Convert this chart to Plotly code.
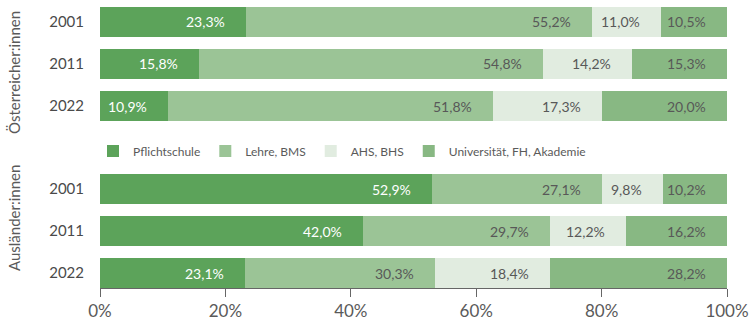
import plotly.graph_objects as go

# Bildungsstand nach Staatsangehörigkeit, Anteile in %
years = ["2001", "2011", "2022"]
levels = ["Pflichtschule", "Lehre, BMS", "AHS, BHS", "Universität, FH, Akademie"]

at_pflicht = [23.3, 15.8, 10.9]
at_lehre = [55.2, 54.8, 51.8]
at_ahs = [11.0, 14.2, 17.3]
at_uni = [10.5, 15.3, 20.0]

aus_pflicht = [52.9, 42.0, 23.1]
aus_lehre = [27.1, 29.7, 30.3]
aus_ahs = [9.8, 12.2, 18.4]
aus_uni = [10.2, 16.2, 28.2]

group_titles = ["Österreicher:innen", "Ausländer:innen"]
x_ticks = [0, 20, 40, 60, 80, 100]

colors = ["#5ca35a", "#9bc496", "#e1ece0", "#88b883"]
label_colors = ["#ffffff", "#585858", "#585858", "#585858"]
FONT = "Lato"

W, H = 749, 326
x0_px, x1_px = 100, 727

def paper_y(px):
    return (H - px) / H

fig = go.Figure()

groups = [
    ("x", "y", [at_pflicht, at_lehre, at_ahs, at_uni]),
    ("x2", "y2", [aus_pflicht, aus_lehre, aus_ahs, aus_uni]),
]
rows = list(range(len(years)))

annotations = []
for gi, (xref, yref, series) in enumerate(groups):
    cum = [0.0] * len(years)
    for si, vals in enumerate(series):
        fig.add_trace(go.Bar(
            x=vals, y=rows, orientation="h", width=0.714,
            name=levels[si], marker=dict(color=colors[si], line=dict(width=0)),
            xaxis=xref, yaxis=yref,
            showlegend=(gi == 0), hoverinfo="skip",
        ))
        for yi, v in enumerate(vals):
            end = cum[yi] + v
            # rounding can push the stack a hair past 100 %; keep the label inside the axis
            annotations.append(dict(
                x=min(end, 100.0), y=rows[yi], xref=xref, yref=yref,
                text=f"{v:.1f}%".replace(".", ","), showarrow=False,
                xanchor="right", yanchor="middle", xshift=-19,
                font=dict(family=FONT, size=14, color=label_colors[si]),
            ))
            cum[yi] = end

# group titles on the left, rotated
for title, center_px in zip(group_titles, [73, 218]):
    annotations.append(dict(
        x=14 / W, y=paper_y(center_px), xref="paper", yref="paper",
        xanchor="center", yanchor="middle",
        text=title, textangle=-90, showarrow=False,
        font=dict(family=FONT, size=15, color="#5a5a5a"),
    ))

xdom = [x0_px / W, x1_px / W]
yaxis_common = dict(
    tickvals=rows, ticktext=years,
    showgrid=False, zeroline=False, showline=False, ticks="",
    tickfont=dict(family=FONT, size=15, color="#4a4a4a"),
    ticklabelstandoff=15, automargin=False, fixedrange=True,
)

fig.update_layout(
    width=W, height=H,
    margin=dict(l=0, r=0, t=0, b=0),
    paper_bgcolor="white", plot_bgcolor="white",
    barmode="stack",
    font=dict(family=FONT, color="#5a5a5a"),
    xaxis=dict(domain=xdom, anchor="y", range=[0, 100], visible=False, fixedrange=True),
    xaxis2=dict(
        domain=xdom, anchor="y2", range=[0, 100],
        tickvals=x_ticks, ticktext=[f"{t}%" for t in x_ticks],
        showgrid=False, zeroline=False,
        showline=True, linecolor="#666666", linewidth=1,
        ticks="outside", ticklen=8, tickcolor="#666666",
        tickfont=dict(family=FONT, size=17, color="#5a5a5a"),
        automargin=False, fixedrange=True,
    ),
    yaxis=dict(domain=[paper_y(127), paper_y(1)], range=[2.5, -0.5], **yaxis_common),
    yaxis2=dict(domain=[paper_y(288), paper_y(168)], range=[2.357, -0.5], **yaxis_common),
    legend=dict(
        orientation="h", x=93 / W, xanchor="left", y=paper_y(151), yanchor="middle",
        font=dict(family=FONT, size=12, color="#5a5a5a"),
        bgcolor="rgba(0,0,0,0)", traceorder="normal",
    ),
    annotations=annotations,
)

fig.write_html("out.html")
